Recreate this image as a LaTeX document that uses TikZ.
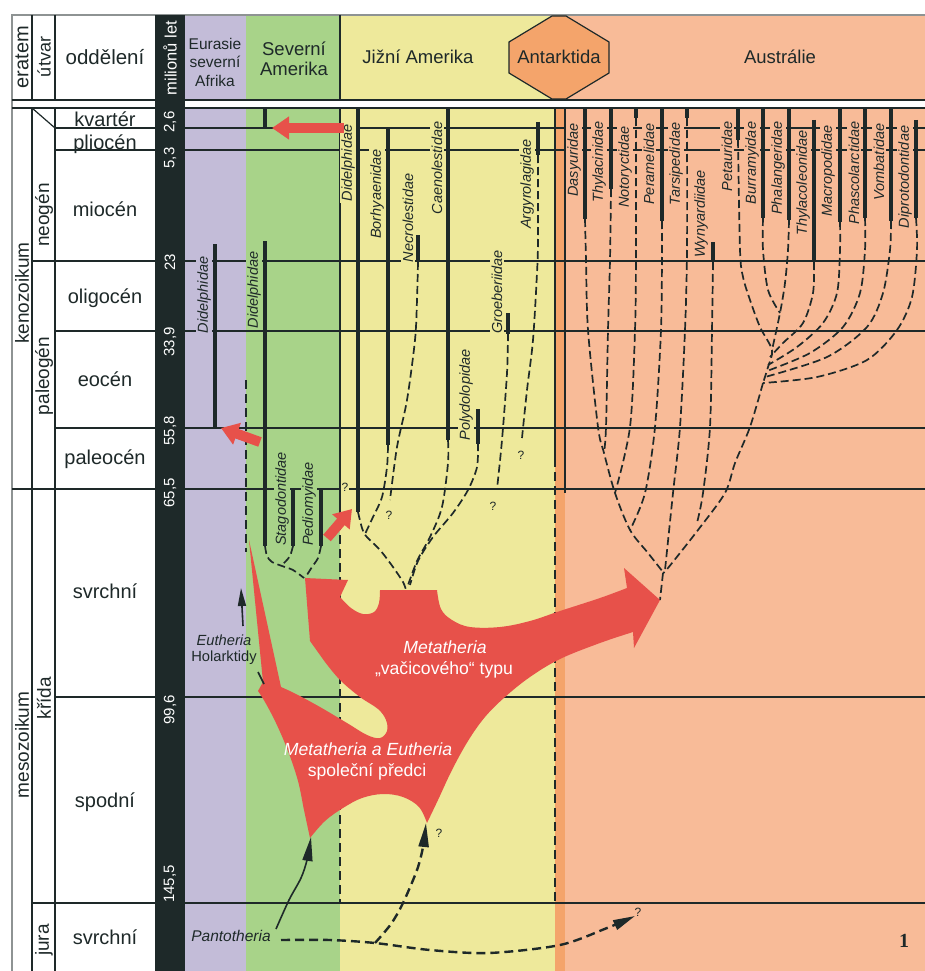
\documentclass[tikz,border=0pt]{standalone}
\usepackage{fontspec}
\setmainfont{Liberation Sans}
\newfontfamily\numfont{Liberation Serif}
\usetikzlibrary{arrows.meta}
\definecolor{ink}{HTML}{1E2929}
\definecolor{purp}{HTML}{C3BCD8}
\definecolor{grn}{HTML}{A8D389}
\definecolor{yel}{HTML}{EEE99B}
\definecolor{antc}{HTML}{F4A46B}
\definecolor{aus}{HTML}{F8BB98}
\definecolor{redc}{HTML}{E7514A}
\definecolor{framec}{HTML}{8E9393}
\tikzset{
  hline/.style={draw=ink, line width=1.8pt},
  vline/.style={draw=ink, line width=1.2pt},
  vdash/.style={draw=ink, line width=1.2pt, dash pattern=on 9pt off 5pt},
  bar/.style={draw=ink, line width=4.6pt},
  tree/.style={draw=ink, line width=1.7pt, dash pattern=on 8pt off 4pt},
  thickdash/.style={draw=ink, line width=2.4pt, dash pattern=on 9pt off 5pt},
  fam/.style={rotate=90, font=\fontsize{14.5}{15}\selectfont\itshape, text=ink, inner sep=1.5pt},
  qm/.style={font=\fontsize{12}{13}\selectfont, text=ink, inner sep=0.5pt},
  period/.style={font=\fontsize{20}{22}\selectfont, text=ink, anchor=base, inner sep=0pt},
  unitlbl/.style={rotate=90, font=\fontsize{19}{20}\selectfont, text=ink, inner sep=0pt},
  age/.style={rotate=90, font=\fontsize{15}{16}\selectfont, text=white, inner sep=0pt},
  head/.style={font=\fontsize{18.5}{19.5}\selectfont, text=ink, inner sep=0pt, align=center},
  redarrow/.style={draw=redc, line width=10pt, -{Triangle[length=17pt,width=22pt]}},
  blackarrow/.style={draw=ink, line width=1.6pt, -{Triangle[length=24pt,width=10pt]}},
  whitelbl/.style={font=\fontsize{17.6}{19}\selectfont, text=white, anchor=base, inner sep=0pt},
}
\begin{document}
\begin{tikzpicture}[x=1pt,y=-1pt]
\useasboundingbox (0,0) rectangle (925,971);
\fill[white] (0,0) rectangle (925,971);
% header fills
\fill[purp] (185,15) rectangle (246,100);
\fill[grn] (246,15) rectangle (340,100);
\fill[yel] (340,15) rectangle (559,100);
\fill[aus] (559,15) rectangle (925,100);
% body fills
\fill[purp] (185,108) rectangle (246,971);
\fill[grn] (246,108) rectangle (340,971);
\fill[yel] (340,108) rectangle (555,971);
\fill[antc] (555,108) rectangle (565,971);
\fill[aus] (565,108) rectangle (925,971);

% frame and grid
\draw[framec, line width=1.5pt] (925,15) -- (12,15) -- (12,971);
\draw[hline] (12,100) -- (925,100);
\draw[hline] (12,108) -- (925,108);
\draw[vline] (32,15) -- (32,100);
\draw[vline] (55,15) -- (55,100);
\draw[vline] (340,15) -- (340,100);
\draw[vline] (32,108) -- (32,971);
\draw[vline] (55,108) -- (55,971);
\draw[vline] (32,108) -- (55,128);
\draw[hline] (55,128) -- (925,128);
\draw[hline] (55,150) -- (925,150);
\draw[hline] (32,261) -- (925,261);
\draw[hline] (55,331) -- (925,331);
\draw[hline] (55,428) -- (925,428);
\draw[hline] (12,489) -- (925,489);
\draw[hline] (55,697) -- (925,697);
\draw[hline] (32,903) -- (925,903);
% column boundaries in body
\draw[vline] (340,108) -- (340,507);
\draw[vdash] (340,507) -- (340,903);
\draw[vline] (555,108) -- (555,458);
\draw[vdash] (555,458) -- (555,903);
\draw[vline] (565,108) -- (565,493);
\draw[vdash] (246,380) -- (246,552);

% black time bar
\fill[ink] (155,15) rectangle (185,971);
% Antarctica badge
\draw[fill=antc, draw=ink, line width=1.2pt] (552,16) -- (566,16) -- (609,42) -- (609,73) -- (566,99) -- (552,99) -- (509,73) -- (509,42) -- cycle;

% header texts
\node[unitlbl, font=\fontsize{20}{21}\selectfont] (hEra) at (22,57) {eratem};
\node[unitlbl, font=\fontsize{18}{19}\selectfont] (hUtv) at (44,57) {útvar};
\node[font=\fontsize{20.5}{22}\selectfont, text=ink, inner sep=0pt] (hOdd) at (105,57) {oddělení};
\node[age, font=\fontsize{16.5}{17}\selectfont] (hMil) at (170,58) {milionů let};
\node[head, font=\fontsize{15.5}{18.5}\selectfont] (hEur) at (215,62) {Eurasie\\severní\\Afrika};
\node[head] (hNAm) at (294,59) {Severní\\Amerika};
\node[head] (hSAm) at (418,57) {Jižní Amerika};
\node[head] (hAnt) at (559,57) {Antarktida};
\node[head] (hAus) at (780,57) {Austrálie};

% stratigraphic labels
\node[unitlbl] (eKen) at (22,293) {kenozoikum};
\node[unitlbl] (eMes) at (22,745) {mesozoikum};
\node[unitlbl] (uNeo) at (44,215) {neogén};
\node[unitlbl] (uPal) at (44,376) {paleogén};
\node[unitlbl] (uKri) at (44,698) {křída};
\node[unitlbl] (uJur) at (44,940) {jura};
\node[period] (pKva) at (105,127) {kvartér};
\node[period] (pPli) at (105,149) {pliocén};
\node[period] (pMio) at (105,216) {miocén};
\node[period] (pOli) at (105,303) {oligocén};
\node[period] (pEoc) at (105,386) {eocén};
\node[period] (pPac) at (105,464) {paleocén};
\node[period] (pSvr) at (105,598) {svrchní};
\node[period] (pSpo) at (105,807) {spodní};
\node[period] (pJsv) at (105,944) {svrchní};
% ages
\node[age] (a26) at (170,122) {2,6};
\node[age] (a53) at (170,158) {5,3};
\node[age] (a23) at (170,262) {23};
\node[age] (a339) at (170,342) {33,9};
\node[age] (a558) at (170,431) {55,8};
\node[age] (a655) at (170,493) {65,5};
\node[age] (a996) at (170,710) {99,6};
\node[age] (a1455) at (170,884) {145,5};

% dashed phylogeny: North America
\draw[tree] plot[smooth] coordinates {(265,546) (267,556) (272,562) (282,566) (293,570) (304,578)};
\draw[tree] plot[smooth] coordinates {(293,546) (290,556) (285,562) (281,566)};
\draw[tree] plot[smooth] coordinates {(321,546) (318,558) (312,567) (305,578)};
% South America
\draw[tree] plot[smooth] coordinates {(358,512) (362,528) (366,536) (380,550) (393,567) (403,582) (406,590)};
\draw[tree] plot[smooth] coordinates {(388,445) (387,467) (382,497) (373,517) (365,534)};
\draw[tree] plot[smooth] coordinates {(418,262) (417,300) (415,340) (407,400) (397,447) (390,500)};
\draw[tree] plot[smooth] coordinates {(448,440) (448,463) (442,507) (430,537) (417,561) (407,588)};
\draw[tree] plot[smooth] coordinates {(478,443) (477,467) (468,490) (453,513) (433,537) (418,561) (410,585)};
\draw[tree] plot[smooth] coordinates {(508,333) (507,373) (502,440) (497,489)};
\draw[tree] plot[smooth] coordinates {(538,155) (538,240) (537,273) (533,340) (527,390) (522,438)};
% Australia, left group
\draw[tree] plot[smooth] coordinates {(585,219) (586,260) (588,330) (598,427) (604,453) (615,493) (630,530) (648,553) (663,572)};
\draw[tree] plot[smooth] coordinates {(611,189) (610,260) (608,330) (606,427) (604,453)};
\draw[tree] plot[smooth] coordinates {(636,118) (636,250) (635,330) (630,427) (615,493)};
\draw[tree] plot[smooth] coordinates {(662,221) (662,250) (661,330) (655,427) (645,493) (630,530)};
\draw[tree] plot[smooth] coordinates {(687,118) (687,250) (685,330) (680,427) (673,493) (665,570)};
\draw[tree] plot[smooth] coordinates {(713,262) (712,330) (710,427) (703,493) (697,523)};
% Australia, right group
\draw[tree] plot[smooth] coordinates {(738,140) (740,250) (743,277) (750,300) (760,327) (772,350) (768,367) (763,383)};
\draw[tree] plot[smooth] coordinates {(763,218) (763,250) (768,290) (780,313)};
\draw[tree] plot[smooth] coordinates {(789,220) (788,250) (785,283) (780,313) (772,350)};
\draw[tree] plot[smooth] coordinates {(814,262) (813,293) (803,323) (783,343) (770,357)};
\draw[tree] plot[smooth] coordinates {(840,222) (840,250) (837,293) (823,323) (797,347) (768,365)};
\draw[tree] plot[smooth] coordinates {(865,218) (865,250) (860,293) (843,327) (810,353) (767,371)};
\draw[tree] plot[smooth] coordinates {(891,221) (890,250) (883,293) (867,327) (827,357) (765,377)};
\draw[tree] plot[smooth] coordinates {(916,218) (917,250) (912,297) (897,330) (867,360) (817,377) (763,383)};
\draw[tree] plot[smooth] coordinates {(763,383) (750,427) (735,463) (725,493) (698,530) (668,568) (663,573)};
\draw[tree] (663,573) -- (660,600);

% family labels
\node[fam, fill=purp] (eDid) at (204,295) {Didelphidae};
\node[fam, fill=grn] (nDid) at (254,290) {Didelphidae};
\node[fam, fill=grn] (nSta) at (282,499) {Stagodontidae};
\node[fam, fill=grn] (nPed) at (309,504) {Pediomyidae};
\node[fam, fill=yel] (sDid) at (348,163) {Didelphidae};
\node[fam, fill=yel] (sBor) at (377,194) {Borhyaenidae};
\node[fam, fill=yel] (sNec) at (408,218) {Necrolestidae};
\node[fam, fill=yel] (sCae) at (437,168) {Caenolestidae};
\node[fam, fill=yel] (sPol) at (466,395) {Polydolopidae};
\node[fam, fill=yel] (sGro) at (497,292) {Groeberiidae};
\node[fam, fill=yel] (sArg) at (527,184) {Argyrolagidae};
\node[fam, fill=aus] (aDas) at (574,160) {Dasyuridae};
\node[fam, fill=aus] (aThy) at (599,162) {Thylacinidae};
\node[fam, fill=aus] (aNot) at (625,167) {Notoryctidae};
\node[fam, fill=aus] (aPer) at (649,164) {Peramelidae};
\node[fam, fill=aus] (aTar) at (676,164) {Tarsipedidae};
\node[fam, fill=aus] (aWyn) at (701,214) {Wynyardiidae};
\node[fam, fill=aus] (aPet) at (727,156) {Petauridae};
\node[fam, fill=aus] (aBur) at (752,163) {Burramyidae};
\node[fam, fill=aus] (aPha) at (778,168) {Phalangeridae};
\node[fam, fill=aus] (aTle) at (803,183) {Thylacoleonidae};
\node[fam, fill=aus] (aMac) at (828,171) {Macropodidae};
\node[fam, fill=aus] (aPhc) at (854,173) {Phascolarctidae};
\node[fam, fill=aus] (aVom) at (879,162) {Vombatidae};
\node[fam, fill=aus] (aDip) at (905,177) {Diprotodontidae};

% range bars
\draw[bar] (215,244) -- (215,428);
\draw[bar] (265,108) -- (265,128);
\draw[bar] (265,241) -- (265,546);
\draw[bar] (293,489) -- (293,546);
\draw[bar] (321,489) -- (321,546);
\draw[bar] (358,108) -- (358,512);
\draw[bar] (388,129) -- (388,445);
\draw[bar] (418,235) -- (418,262);
\draw[bar] (448,108) -- (448,440);
\draw[bar] (478,409) -- (478,444);
\draw[bar] (508,313) -- (508,334);
\draw[bar] (538,122) -- (538,155);
\draw[bar] (585,108) -- (585,219);
\draw[bar] (611,108) -- (611,189);
\draw[bar] (636,108) -- (636,118);
\draw[bar] (662,108) -- (662,221);
\draw[bar] (687,108) -- (687,118);
\draw[bar] (713,242) -- (713,262);
\draw[bar] (738,108) -- (738,140);
\draw[bar] (763,108) -- (763,218);
\draw[bar] (789,108) -- (789,220);
\draw[bar] (814,120) -- (814,262);
\draw[bar] (840,108) -- (840,222);
\draw[bar] (865,108) -- (865,218);
\draw[bar] (891,108) -- (891,221);
\draw[bar] (916,120) -- (916,218);

% question marks
\node[qm, fill=yel] (q1) at (345,487) {?};
\node[qm] (q2) at (389,515) {?};
\node[qm] (q3) at (493,506) {?};
\node[qm] (q4) at (521,455) {?};
\node[qm] (q5) at (439,833) {?};
\node[qm] (q6) at (638,912) {?};

% red migration arrows
\draw[redarrow] (344,128) -- (272,128);
\draw[redarrow] (260,442) -- (221,428);
\draw[redarrow] (327,538) -- (352,509);

% big red shape
\fill[redc] (249,540) -- (281,687)
  -- plot[smooth, tension=0.6] coordinates {(281,687) (296,694) (320,707) (347,723) (367,735) (380,738) (387,731) (386,720) (378,709) (360,697) (340,680) (325,662)}
  -- (310,641) -- (305,578) -- (348,580) -- (340,597)
  -- plot[smooth, tension=0.6] coordinates {(340,597) (351,608) (363,614) (374,612) (379,603) (380,590)}
  -- (437,590)
  -- plot[smooth, tension=0.6] coordinates {(437,590) (441,609) (452,620) (470,627) (500,627) (530,621) (560,611) (600,598) (627,588)}
  -- (624,568) -- (660,600) -- (634,648) -- (633,632)
  -- plot[smooth, tension=0.6] coordinates {(633,632) (600,643) (560,659) (530,677) (505,697) (485,717) (468,741) (452,770) (438,800) (427,823)}
  -- plot[smooth, tension=0.6] coordinates {(427,823) (419,807) (403,797) (383,794) (362,798) (343,808) (325,821) (310,838)}
  -- plot[smooth, tension=0.6] coordinates {(310,838) (304,810) (298,781) (288,751) (276,723) (265,702) (258,691)}
  -- (263,682) -- cycle;

\node[whitelbl, font=\fontsize{17.6}{19}\selectfont\itshape] (mt1) at (445,653) {Metatheria};
\node[whitelbl] (mt2) at (444,674) {„vačicového“ typu};
\node[whitelbl, font=\fontsize{17.6}{19}\selectfont\itshape] (me1) at (368,755) {Metatheria a Eutheria};
\node[whitelbl] (me2) at (367,776) {společní předci};

% Eutheria
\node[font=\fontsize{14.7}{16}\selectfont, text=ink, align=center, inner sep=0pt] (euth) at (224,650) {\itshape Eutheria\\Holarktidy};
\draw[ink, line width=1.6pt, -{Triangle[length=18pt,width=8pt]}] (243,626) -- (241,588);
\draw[ink, line width=1.6pt] (258,672) -- (264,684);

% Pantotheria
\node[font=\fontsize{15.5}{16}\selectfont\itshape, text=ink, anchor=base, inner sep=0pt] (pant) at (231,941) {Pantotheria};
\coordinate (pA) at (276,929);
\coordinate (pB) at (281,940);
\coordinate (pC) at (375,943);
\draw[blackarrow] plot[smooth] coordinates {(pA) (289,900) (301,878) (307,860) (311,837)};
\draw[thickdash, -{Triangle[length=24pt,width=10pt]}] plot[smooth] coordinates {(pC) (391,924) (403,903) (417,870) (423,847) (426,823)};
\draw[thickdash, -{Triangle[length=22pt,width=10pt]}] plot[smooth] coordinates {(pB) (330,940) (375,943) (430,950) (489,953) (560,945) (607,928) (635,916)};

\node[font=\numfont\bfseries\fontsize{20}{22}\selectfont, text=ink, inner sep=0pt] (fig) at (904,941) {1};
\end{tikzpicture}
\end{document}
